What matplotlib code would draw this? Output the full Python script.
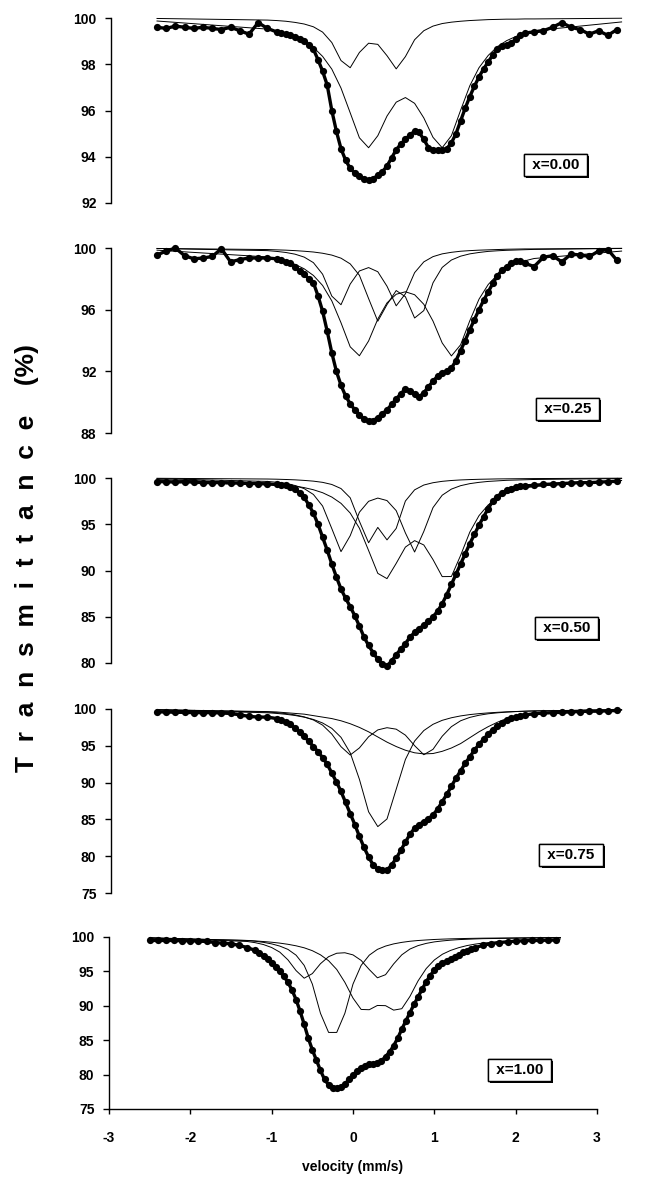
import numpy as np
import matplotlib
matplotlib.use('Agg')
import matplotlib.pyplot as plt
import matplotlib.patheffects as pe

plt.rcParams['font.family'] = ['Liberation Sans', 'DejaVu Sans']
plt.rcParams['font.weight'] = 'bold'
plt.rcParams['axes.unicode_minus'] = False

# velocity channels (mm/s): measured spectrum and fitted sub-spectra
V_DATA = np.round(np.concatenate([np.linspace(-2.5, -1.3, 13),
                                  np.linspace(-1.2, 1.45, 54),
                                  np.linspace(1.5, 2.5, 11)]), 2)
V_FIT = np.round(np.concatenate([[-2.5], np.linspace(-1.3, 1.6, 30), [2.55]]), 2)

# ---- x = 0.00 ----
DATA_000 = [99.6, 99.55, 99.65, 99.6, 99.55, 99.6, 99.55, 99.5, 99.6, 99.45, 99.3, 99.8, 99.55,
            99.4, 99.35, 99.3, 99.25, 99.2, 99.1, 99.0, 98.85, 98.65, 98.2,
            97.7, 97.1, 96.0, 95.1, 94.35, 93.85, 93.5, 93.3, 93.15, 93.05,
            93.0, 93.05, 93.2, 93.35, 93.6, 93.95, 94.3, 94.55, 94.75, 94.95,
            95.1, 95.05, 94.75, 94.4, 94.3, 94.3, 94.3, 94.35, 94.6, 95.0,
            95.55, 96.1, 96.6, 97.05, 97.45, 97.8, 98.1, 98.4, 98.65, 98.8,
            98.85, 98.9, 99.1, 99.25,
            99.35, 99.4, 99.45, 99.6, 99.8, 99.6, 99.5, 99.3, 99.45, 99.25, 99.5]
FIT_000_A = [99.98,
             99.91, 99.89, 99.86, 99.81, 99.74, 99.62, 99.39, 98.94, 98.16, 97.85,
             98.51, 98.91, 98.86, 98.37, 97.8, 98.33, 99.06, 99.45, 99.65, 99.76,
             99.82, 99.86, 99.89, 99.91, 99.93, 99.94, 99.95, 99.95, 99.96, 99.96,
             99.99]
FIT_000_B = [99.87,
             99.52, 99.43, 99.33, 99.18, 98.99, 98.73, 98.34, 97.79, 96.97, 95.9,
             94.82, 94.39, 94.91, 95.76, 96.36, 96.56, 96.31, 95.68, 94.84, 94.39,
             94.91, 96.01, 97.07, 97.85, 98.38, 98.76, 99.02, 99.2, 99.34, 99.45,
             99.83]

# ---- x = 0.25 ----
DATA_025 = [99.55, 99.8, 100.0, 99.5, 99.3, 99.35, 99.45, 99.95, 99.1, 99.25, 99.35, 99.35, 99.35,
            99.3, 99.2, 99.1, 99.0, 98.8, 98.5, 98.3, 98.0, 97.75, 96.9,
            95.9, 94.6, 93.2, 92.0, 91.1, 90.4, 89.9, 89.5, 89.2, 88.9,
            88.75, 88.8, 89.0, 89.25, 89.5, 89.85, 90.2, 90.55, 90.85, 90.75,
            90.5, 90.35, 90.6, 91.0, 91.35, 91.7, 91.9, 92.0, 92.2, 92.7,
            93.35, 94.0, 94.7, 95.35, 96.0, 96.6, 97.15, 97.7, 98.2, 98.55,
            98.8, 99.0, 99.15, 99.15,
            99.0, 98.8, 99.4, 99.5, 99.1, 99.6, 99.55, 99.45, 99.8, 99.9, 99.2]
FIT_025_A = [99.97,
             99.83, 99.78, 99.71, 99.6, 99.41, 99.05, 98.3, 96.88, 96.32, 97.66,
             98.51, 98.73, 98.46, 97.52, 96.25, 97.03, 98.4, 99.1, 99.44, 99.62,
             99.72, 99.79, 99.83, 99.86, 99.88, 99.9, 99.92, 99.93, 99.94, 99.94,
             99.98]
FIT_025_B = [99.97,
             99.9, 99.88, 99.86, 99.83, 99.79, 99.74, 99.66, 99.54, 99.34, 98.97,
             98.23, 96.72, 95.25, 96.33, 97.24, 96.84, 95.46, 95.94, 97.74, 98.74,
             99.22, 99.47, 99.62, 99.71, 99.78, 99.82, 99.85, 99.87, 99.89, 99.91,
             99.97]
FIT_025_C = [99.86,
             99.42, 99.3, 99.15, 98.94, 98.65, 98.22, 97.57, 96.57, 95.15, 93.59,
             93.01, 93.97, 95.39, 96.44, 97.0, 97.16, 96.97, 96.35, 95.26, 93.84,
             93.0, 93.72, 95.28, 96.68, 97.63, 98.26, 98.68, 98.96, 99.17, 99.32,
             99.8]

# ---- x = 0.50 ----
DATA_050 = [99.6, 99.6, 99.55, 99.6, 99.55, 99.5, 99.5, 99.5, 99.45, 99.45, 99.4, 99.4, 99.35,
            99.3, 99.25, 99.2, 99.05, 98.8, 98.4, 97.9, 97.1, 96.2, 95.0,
            93.6, 92.2, 90.7, 89.3, 88.0, 87.0, 86.1, 85.1, 84.0, 82.8,
            81.9, 81.1, 80.4, 79.9, 79.7, 80.2, 80.9, 81.5, 82.1, 82.8,
            83.3, 83.7, 84.1, 84.5, 85.0, 85.6, 86.4, 87.4, 88.5, 89.6,
            90.7, 91.8, 92.9, 93.9, 94.9, 95.8, 96.7, 97.5, 98.0, 98.4,
            98.65, 98.85, 99.0, 99.1,
            99.15, 99.2, 99.3, 99.35, 99.4, 99.45, 99.5, 99.5, 99.55, 99.6, 99.65]
FIT_050_A = [99.93,
             99.63, 99.54, 99.41, 99.19, 98.85, 98.22, 96.97, 94.53, 92.04, 93.76,
             96.3, 97.48, 97.83, 97.56, 96.47, 94.06, 92.0, 94.22, 96.8, 98.14,
             98.8, 99.17, 99.39, 99.53, 99.63, 99.69, 99.75, 99.78, 99.81, 99.84,
             99.94]
FIT_050_B = [99.83,
             99.46, 99.37, 99.27, 99.13, 98.96, 98.73, 98.41, 97.94, 97.26, 96.21,
             94.57, 92.16, 89.69, 89.12, 90.77, 92.53, 93.23, 92.76, 91.18, 89.34,
             89.35, 91.63, 94.15, 95.93, 97.09, 97.82, 98.32, 98.66, 98.92, 99.1,
             99.73]
FIT_050_C = [99.97,
             99.89, 99.87, 99.84, 99.8, 99.74, 99.66, 99.53, 99.3, 98.86, 97.86,
             95.32, 93.0, 94.66, 93.31, 94.55, 97.51, 98.72, 99.24, 99.49, 99.64,
             99.73, 99.79, 99.83, 99.86, 99.88, 99.9, 99.91, 99.92, 99.93, 99.94,
             99.98]

# ---- x = 0.75 ----
DATA_075 = [99.6, 99.6, 99.55, 99.55, 99.5, 99.5, 99.5, 99.45, 99.4, 99.2, 99.0, 98.9, 98.9,
            98.7, 98.45, 98.2, 97.9, 97.4, 96.9, 96.3, 95.6, 94.9, 94.2,
            93.4, 92.5, 91.3, 90.1, 88.8, 87.3, 85.8, 84.3, 82.7, 81.2,
            79.9, 78.8, 78.2, 78.1, 78.1, 78.8, 79.7, 80.8, 81.9, 83.0,
            83.8, 84.3, 84.7, 85.1, 85.6, 86.4, 87.4, 88.4, 89.5, 90.6,
            91.6, 92.6, 93.5, 94.4, 95.2, 95.9, 96.6, 97.2, 97.7, 98.1,
            98.45, 98.75, 98.95, 99.1,
            99.2, 99.35, 99.45, 99.5, 99.55, 99.6, 99.65, 99.7, 99.7, 99.75, 99.8]
FIT_075_A = [99.87,
             99.49, 99.4, 99.28, 99.12, 98.89, 98.58, 98.1, 97.37, 96.15, 94.05,
             90.45, 86.03, 84.02, 85.06, 89.1, 93.14, 95.64, 97.07, 97.92, 98.46,
             98.81, 99.06, 99.24, 99.37, 99.47, 99.55, 99.61, 99.66, 99.7, 99.74,
             99.89]
FIT_075_B = [99.91,
             99.59, 99.5, 99.38, 99.2, 98.93, 98.51, 97.81, 96.6, 94.88, 93.75,
             94.71, 96.23, 97.16, 97.46, 97.26, 96.45, 95.02, 93.79, 94.52, 96.3,
             97.6, 98.4, 98.86, 99.15, 99.35, 99.48, 99.58, 99.65, 99.7, 99.74,
             99.91]
FIT_075_C = [99.9,
             99.65, 99.6, 99.5, 99.4, 99.3, 99.1, 98.9, 98.7, 98.4, 98.0,
             97.5, 96.9, 96.2, 95.5, 94.9, 94.4, 94.05, 93.9, 93.95, 94.25,
             94.7, 95.3, 96.1, 96.9, 97.6, 98.2, 98.7, 99.0, 99.25, 99.4,
             99.85]

# ---- x = 1.00 ----
DATA_100 = [99.5, 99.5, 99.5, 99.5, 99.45, 99.45, 99.4, 99.35, 99.2, 99.1, 99.0, 98.8, 98.45,
            98.05, 97.7, 97.25, 96.75, 96.2, 95.6, 95.0, 94.3, 93.4, 92.3,
            90.9, 89.2, 87.3, 85.3, 83.6, 82.1, 80.6, 79.3, 78.5, 78.1,
            78.0, 78.2, 78.6, 79.3, 79.9, 80.5, 81.0, 81.3, 81.5, 81.6,
            81.7, 82.0, 82.6, 83.3, 84.2, 85.3, 86.6, 87.8, 89.0, 90.2,
            91.3, 92.4, 93.5, 94.4, 95.2, 95.8, 96.2, 96.5, 96.8, 97.1,
            97.45, 97.75, 98.0, 98.25,
            98.45, 98.8, 99.05, 99.2, 99.3, 99.4, 99.45, 99.5, 99.5, 99.55, 99.55]
FIT_100_A = [99.88,
             99.35, 99.17, 98.9, 98.47, 97.8, 96.68, 95.12, 94.01, 94.68, 96.12,
             97.14, 97.64, 97.71, 97.4, 96.6, 95.27, 94.07, 94.52, 96.09, 97.41,
             98.25, 98.75, 99.07, 99.29, 99.43, 99.54, 99.62, 99.67, 99.72, 99.76,
             99.91]
FIT_100_B = [99.89,
             99.49, 99.38, 99.22, 99.0, 98.68, 98.2, 97.36, 95.87, 93.16, 88.91,
             86.13, 86.13, 88.91, 93.16, 95.87, 97.36, 98.2, 98.68, 99.0, 99.22,
             99.38, 99.49, 99.57, 99.64, 99.69, 99.73, 99.76, 99.79, 99.81, 99.83,
             99.93]
FIT_100_C = [99.84,
             99.5, 99.43, 99.34, 99.24, 99.11, 98.94, 98.72, 98.43, 98.01, 97.41,
             96.55, 95.28, 93.41, 91.12, 89.47, 89.43, 90.05, 90.02, 89.37, 89.58,
             91.36, 93.62, 95.41, 96.66, 97.5, 98.05, 98.45, 98.75, 98.96, 99.13,
             99.72]

LABELS = ['x=0.00', 'x=0.25', 'x=0.50', 'x=0.75', 'x=1.00']
Y_MIN = [92, 88, 80, 75, 75]
Y_STEP = [2, 4, 5, 5, 5]
SPECTRA = [DATA_000, DATA_025, DATA_050, DATA_075, DATA_100]
FITS = [[FIT_000_A, FIT_000_B],
        [FIT_025_A, FIT_025_B, FIT_025_C],
        [FIT_050_A, FIT_050_B, FIT_050_C],
        [FIT_075_A, FIT_075_B, FIT_075_C],
        [FIT_100_A, FIT_100_B, FIT_100_C]]

W, H = 668, 1177
# axes boxes in pixels: left, top, right, bottom
# (upper charts have hidden x axes and a wider plot area than the bottom one)
BOXES = [(111, 18, 663, 203),
         (111, 248, 663, 433),
         (111, 478, 663, 663),
         (111, 709, 663, 893),
         (109, 937, 597, 1109)]
# label box centres in data coords
LABEL_POS = [(1.83, 93.64), (1.96, 89.56), (1.95, 83.8), (2.0, 80.2), (2.05, 80.7)]

fig = plt.figure(figsize=(W / 100, H / 100), dpi=100)
fig.patch.set_facecolor('white')

for i in range(5):
    l, t, r, b = BOXES[i]
    ax = fig.add_axes([l / W, 1 - b / H, (r - l) / W, (b - t) / H])
    ax.set_xlim(-3, 3)
    ax.set_ylim(Y_MIN[i], 100)
    yt = np.arange(Y_MIN[i], 100.1, Y_STEP[i])
    ax.set_yticks(yt)
    ax.set_yticklabels([f'{v:.0f}' for v in yt])
    for s in ['top', 'right']:
        ax.spines[s].set_visible(False)
    ax.spines['left'].set_linewidth(1.0)
    ax.tick_params(axis='y', direction='out', length=4.5, width=1.0, pad=6, labelsize=10)
    if i < 4:
        ax.spines['bottom'].set_visible(False)
        ax.set_xticks([])
    else:
        ax.spines['bottom'].set_linewidth(1.0)
        ax.set_xticks(range(-3, 4))
        ax.tick_params(axis='x', direction='out', length=3.5, width=1.0, pad=12, labelsize=10)

    # fitted sub-spectra (thin)
    for fit in FITS[i]:
        ax.plot(V_FIT, fit, color='black', lw=0.7, clip_on=False, zorder=2)
    # measured spectrum (thick dotted)
    ax.plot(V_DATA, SPECTRA[i], color='black', lw=2.4, marker='o', ms=5.2,
            mew=0, clip_on=False, zorder=3)

    txt = ax.text(LABEL_POS[i][0], LABEL_POS[i][1], ' ' + LABELS[i] + ' ',
                  ha='center', va='center', fontsize=11, fontweight='bold',
                  bbox=dict(boxstyle='square,pad=0.25', fc='white', ec='black', lw=1.0),
                  zorder=5)
    txt.get_bbox_patch().set_path_effects(
        [pe.withSimplePatchShadow(offset=(1.5, -1.5), shadow_rgbFace='black', alpha=1.0),
         pe.Normal()])

fig.text(27 / W, 1 - 558 / H, 'T  r  a  n  s  m  i  t  t  a  n  c  e    (%)',
         rotation=90, ha='center', va='center', fontsize=19, fontweight='bold')
fig.text(353 / W, 1 - 1167 / H, 'velocity (mm/s)', ha='center', va='center',
         fontsize=10, fontweight='bold')

fig.savefig('out.png', dpi=100, facecolor='white')
